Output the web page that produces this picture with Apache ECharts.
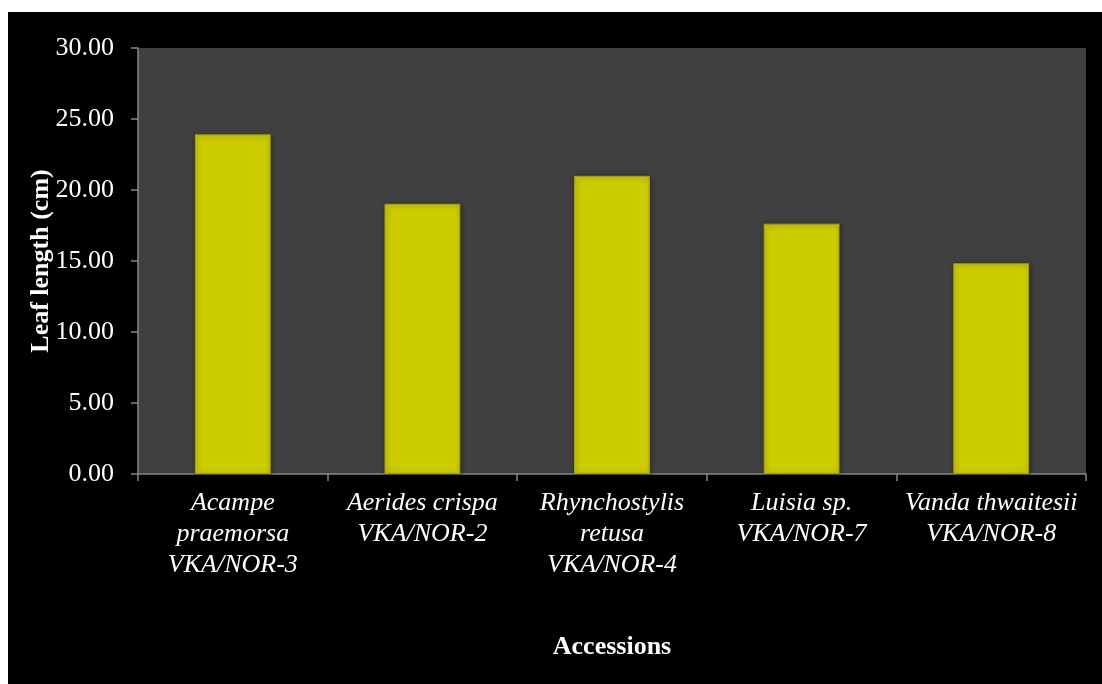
<!DOCTYPE html>
<html>
<head>
<meta charset="utf-8">
<title>Leaf length by accession</title>
<script src="https://cdn.jsdelivr.net/npm/echarts@6/dist/echarts.min.js"></script>
<style>
  html, body { margin: 0; padding: 0; background: #ffffff; width: 1102px; height: 684px; overflow: hidden; }
  #chart { position: absolute; left: 8px; top: 12px; width: 1094px; height: 672px; background: #000000; }
</style>
</head>
<body>
<div id="chart"></div>
<script>
// Accessions (multi-line labels) and mean leaf length in cm
const accessions = [
  'Acampe\npraemorsa\nVKA/NOR-3',
  'Aerides crispa\nVKA/NOR-2',
  'Rhynchostylis\nretusa\nVKA/NOR-4',
  'Luisia sp.\nVKA/NOR-7',
  'Vanda thwaitesii\nVKA/NOR-8'
];
const leafLength = [23.92, 19.03, 21.00, 17.63, 14.84];

const yMin = 0;
const yMax = 30;
const yStep = 5;

const serif = "'Liberation Serif', 'Times New Roman', serif";
const axisGrey = '#868686';

const chart = echarts.init(document.getElementById('chart'), null, { renderer: 'canvas' });

chart.setOption({
  backgroundColor: '#000000',
  animation: false,
  grid: {
    left: 130,
    top: 36,
    width: 948,
    height: 426,
    show: true,
    backgroundColor: '#404040',
    borderWidth: 0
  },
  xAxis: {
    type: 'category',
    data: accessions,
    name: 'Accessions',
    nameLocation: 'middle',
    nameGap: 160,
    nameMoveOverlap: false,
    nameTextStyle: { color: '#ffffff', fontFamily: serif, fontSize: 26, fontWeight: 'bold' },
    axisLine: { show: true, lineStyle: { color: axisGrey, width: 1.5 } },
    axisTick: { show: true, alignWithLabel: false, length: 7, lineStyle: { color: axisGrey, width: 1.5 } },
    axisLabel: {
      color: '#ffffff',
      fontFamily: serif,
      fontStyle: 'italic',
      fontSize: 26,
      lineHeight: 31,
      margin: 14,
      interval: 0,
      align: 'center'
    },
    splitLine: { show: false }
  },
  yAxis: {
    type: 'value',
    min: yMin,
    max: yMax,
    interval: yStep,
    name: 'Leaf length (cm)',
    nameLocation: 'middle',
    nameGap: 84,
    nameMoveOverlap: false,
    nameTextStyle: { color: '#ffffff', fontFamily: serif, fontSize: 26, fontWeight: 'bold' },
    axisLine: { show: true, lineStyle: { color: axisGrey, width: 1.5 } },
    axisTick: { show: true, length: 7, lineStyle: { color: axisGrey, width: 1.5 } },
    axisLabel: {
      color: '#ffffff',
      fontFamily: serif,
      fontSize: 26,
      margin: 24,
      formatter: v => v.toFixed(2)
    },
    splitLine: { show: false }
  },
  series: [{
    type: 'bar',
    data: leafLength,
    barCategoryGap: '60%',
    itemStyle: {
      color: '#cccc00',
      borderColor: '#a3a300',
      borderWidth: 1,
      shadowColor: 'rgba(0,0,0,0.45)',
      shadowBlur: 5,
      shadowOffsetX: 1,
      shadowOffsetY: 1
    },
    emphasis: { disabled: true }
  }]
});
</script>
</body>
</html>
